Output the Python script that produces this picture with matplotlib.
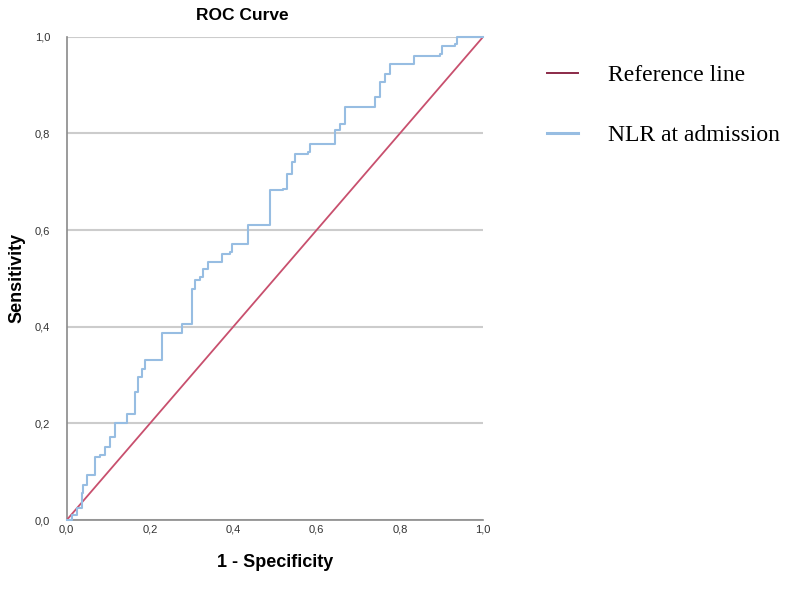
import numpy as np
import matplotlib.pyplot as plt

plt.rcParams['font.family'] = ['Liberation Sans', 'DejaVu Sans']

# ROC points (1 - specificity, sensitivity)
fpr = [0.000, 0.012, 0.024, 0.036, 0.040, 0.048, 0.060, 0.068, 0.080, 0.092, 0.104,
       0.116, 0.136, 0.144, 0.156, 0.164, 0.172, 0.180, 0.188, 0.224, 0.228,
       0.268, 0.276, 0.300, 0.300, 0.308, 0.320, 0.328, 0.340, 0.368, 0.372,
       0.392, 0.396, 0.432, 0.436, 0.484, 0.488, 0.520, 0.528, 0.540, 0.548,
       0.580, 0.584, 0.636, 0.644, 0.656, 0.668, 0.733, 0.740, 0.752, 0.764,
       0.776, 0.829, 0.833, 0.897, 0.901, 0.933, 0.937, 1.000]
tpr = [0.000, 0.010, 0.025, 0.055, 0.072, 0.093, 0.093, 0.131, 0.134, 0.151, 0.172,
       0.200, 0.200, 0.220, 0.220, 0.265, 0.296, 0.313, 0.331, 0.331, 0.386,
       0.386, 0.406, 0.406, 0.479, 0.496, 0.503, 0.520, 0.534, 0.534, 0.551,
       0.554, 0.572, 0.572, 0.610, 0.610, 0.682, 0.685, 0.716, 0.740, 0.758,
       0.761, 0.778, 0.778, 0.806, 0.820, 0.854, 0.854, 0.875, 0.906, 0.923,
       0.944, 0.944, 0.961, 0.964, 0.981, 0.985, 1.000, 1.000]
ref_x = [0.0, 1.0]
ref_y = [0.0, 1.0]
ticks = [0.0, 0.2, 0.4, 0.6, 0.8, 1.0]
tick_labels = ["0,0", "0,2", "0,4", "0,6", "0,8", "1,0"]

fig = plt.figure(figsize=(7.87, 5.93), dpi=100)
ax = fig.add_axes([0.0848, 0.1231, 0.5292, 0.815])

ax.plot(ref_x, ref_y, color="#c8506e", lw=1.3, label="Reference line", zorder=3)
ax.plot(fpr, tpr, color="#97bde2", lw=1.5, drawstyle="steps-post",
        label="NLR at admission", zorder=4, clip_on=False)

ax.set_xlim(0, 1)
ax.set_ylim(0, 1)
ax.set_xticks(ticks)
ax.set_xticklabels(tick_labels)
ax.set_yticks(ticks)
ax.set_yticklabels(tick_labels)
ax.tick_params(length=0, labelsize=8, labelcolor="#333333")
ax.tick_params(axis="y", pad=12)
ax.tick_params(axis="x", pad=3)
ax.yaxis.grid(True, color="#cccccc", lw=1.5)
ax.set_axisbelow(True)
for s in ["top", "right"]:
    ax.spines[s].set_visible(False)
for s in ["left", "bottom"]:
    ax.spines[s].set_color("#8a8a8a")
    ax.spines[s].set_linewidth(1.2)

ax.set_xlabel("1 - Specificity", fontsize=13, fontweight="bold", labelpad=14)
ax.set_ylabel("Sensitivity", fontsize=13, fontweight="bold", labelpad=7)
fig.text(242 / 787, 1 - 16 / 593, "ROC Curve", ha="center", va="center",
         fontsize=12.5, fontweight="bold")

leg = ax.legend(loc="upper left", bbox_to_anchor=(1.103, 0.987), frameon=False,
                prop={"family": "Liberation Serif", "size": 17},
                handlelength=1.3, handletextpad=1.27, labelspacing=1.64)
leg.get_lines()[0].set_color("#8b2a48")
leg.get_lines()[0].set_linewidth(1.4)
leg.get_lines()[1].set_linewidth(2.2)

fig.savefig("out.png", dpi=100)
